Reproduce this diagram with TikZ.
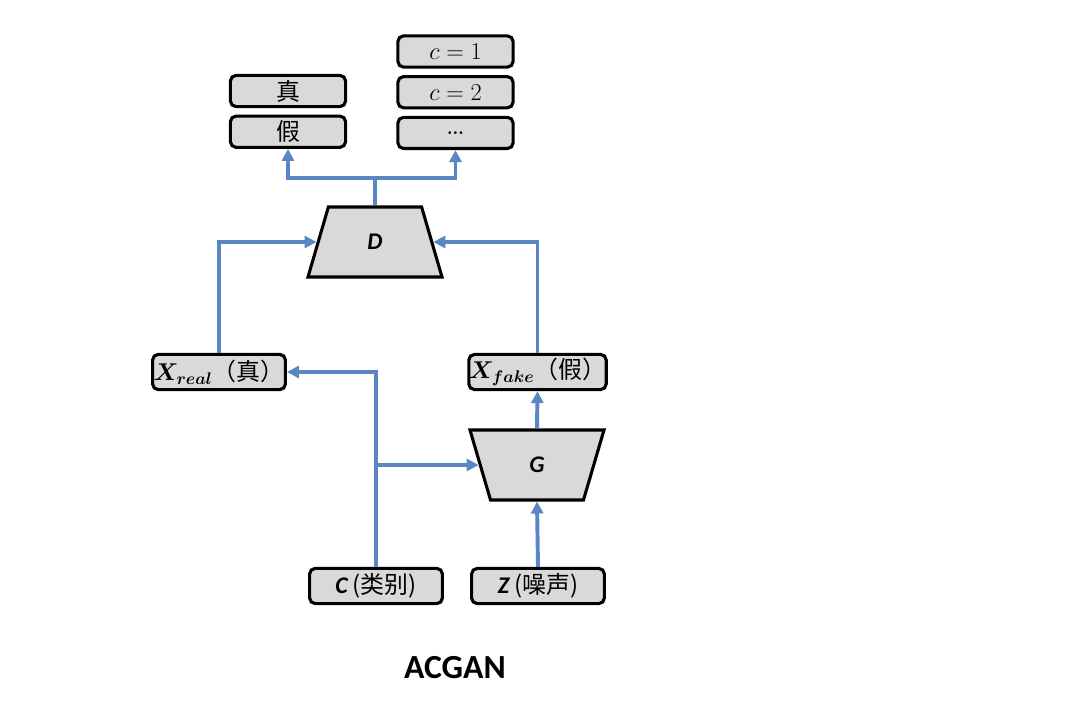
\documentclass[tikz,border=0pt]{standalone}
\usepackage{amsmath,bm}
\usepackage{fontspec}
\setsansfont{Carlito}
\newfontfamily\cjk{Noto Sans CJK SC}
\usetikzlibrary{shapes.geometric,arrows.meta,positioning}
\definecolor{boxgray}{HTML}{D9D9D9}
\definecolor{linkblue}{HTML}{5A86C4}
\tikzset{
    >={Triangle[length=8.5pt,width=8.5pt]},
    outbox/.style={draw=black,line width=2.2pt,rounded corners=4pt,fill=boxgray,
        minimum width=2.88cm,minimum height=0.78cm,inner sep=0pt,
        font=\fontsize{17}{20}\selectfont},
    inbox/.style={outbox,minimum width=3.32cm,minimum height=0.88cm},
    net/.style={draw=black,line width=2.2pt,fill=boxgray,trapezium,trapezium stretches=true,
        minimum width=3.35cm,minimum height=1.75cm,inner sep=0pt,
        font=\sffamily\bfseries\itshape\fontsize{17}{20}\selectfont},
    link/.style={draw=linkblue,line width=2.8pt},
}
\begin{document}
\begin{tikzpicture}[x=0.025cm,y=-0.025cm]
    \useasboundingbox (0,0) rectangle (1091,703);

    % outputs of D
    \node[outbox] (true) at (288,91) {\cjk 真};
    \node[outbox,below=0.16cm of true] (false) {\cjk 假};
    \node[outbox] (c1) at (455.5,51.5) {$c=1$};
    \node[outbox,below=0.16cm of c1] (c2) {$c=2$};
    \node[outbox,below=0.16cm of c2,font=\fontsize{24}{24}\selectfont] (cdots) {\dots};

    % networks
    \node[net,trapezium angle=78] (D) at (375,242) {D};
    \node[net,trapezium left angle=102,trapezium right angle=102] (G) at (537,465) {G};

    % samples and inputs
    \node[inbox] (xreal) at (219,372) {$\bm{X_{real}}${\cjk（真）}};
    \node[inbox] (xfake) at (537.5,372) {$\bm{X_{fake}}${\cjk（假）}};
    \node[inbox] (cls) at (376,586) {\textsf{\bfseries\itshape C}\,{\cjk(类别)}};
    \node[inbox] (noise) at (538,586) {\textsf{\bfseries\itshape Z}\,{\cjk(噪声)}};

    \node[font=\sffamily\bfseries\fontsize{24}{28}\selectfont] (title) at (455,668) {ACGAN};

    % connectors
    \draw[link,->] (D.north) -- ++(0,-27) -| (false.south);
    \draw[link,->] (D.north) ++(0,-27) -| (cdots.south);
    \draw[link,->] (xreal.north) |- (D.west);
    \draw[link,->] (xfake.north) |- (D.east);
    \draw[link,->] (G.north) -- (xfake.south);
    \draw[link,->] (noise.north) -- (G.south);
    \draw[link,->] (cls.north) |- (xreal.east);
    \draw[link,->] (cls.north |- G.west) -- (G.west);
\end{tikzpicture}
\end{document}
